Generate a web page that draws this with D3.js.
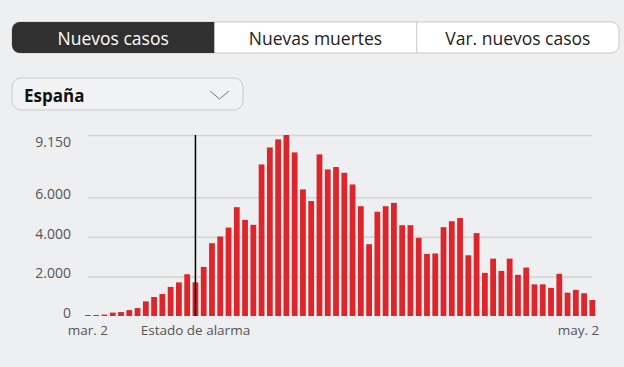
<!DOCTYPE html>
<html>
<head>
<meta charset="utf-8">
<script src="https://cdn.jsdelivr.net/npm/d3@7"></script>
<style>
  html, body { margin: 0; padding: 0; background: #eeeff1; }
  svg { display: block; font-family: "Open Sans", sans-serif; }
</style>
</head>
<body>
<div id="chart"></div>
<script>
// tabs and selector
const tabs = ['Nuevos casos', 'Nuevas muertes', 'Var. nuevos casos'];
const region = 'España';

// one bar per day, mar. 2 .. may. 2
const days = d3.timeDay.range(new Date(2020, 2, 2), new Date(2020, 4, 3));
const newCases = [
  50, 50, 70, 170, 200, 300, 400, 740, 960, 1110,
  1470, 1700, 2110, 1700, 2480, 3680, 4020, 4470, 5500, 4860,
  4610, 7660, 8520, 8930, 9150, 8270, 6400, 5810, 8170, 7410,
  7530, 7240, 6650, 5550, 3630, 5270, 5550, 5720, 4590, 4590,
  3950, 3140, 3160, 4490, 4790, 4950, 3070, 4190, 2180, 2900,
  2280, 2900, 2080, 2450, 1600, 1600, 1420, 2130, 1180, 1320,
  1150, 810
];
const yTicks = [0, 2000, 4000, 6000, 9150];
const xTickLabels = ['mar. 2', 'may. 2'];
const alarmDay = 13; // index into days
const alarmLabel = 'Estado de alarma';

const width = 624, height = 367;
const data = days.map((d, i) => ({ day: i, value: newCases[i] }));

const svg = d3.select('#chart').append('svg')
    .attr('width', width)
    .attr('height', height);

// --- tab bar
const tabX = d3.scaleBand().domain(tabs).range([12, 619]);
const tabY = 22, tabH = 31, r = 8;

svg.append('rect')
    .attr('x', 12).attr('y', tabY)
    .attr('width', 607).attr('height', tabH)
    .attr('rx', r)
    .attr('fill', '#fff')
    .attr('stroke', '#c9c9c9');

const x0 = tabX(tabs[0]), x1 = x0 + tabX.bandwidth();
svg.append('path')
    .attr('d', `M${x1},${tabY}H${x0 + r}A${r},${r} 0 0 0 ${x0},${tabY + r}V${tabY + tabH - r}A${r},${r} 0 0 0 ${x0 + r},${tabY + tabH}H${x1}Z`)
    .attr('fill', '#303030');

svg.append('line')
    .attr('x1', tabX(tabs[2])).attr('x2', tabX(tabs[2]))
    .attr('y1', tabY).attr('y2', tabY + tabH)
    .attr('stroke', '#c9c9c9');

svg.selectAll('.tab')
  .data(tabs)
  .enter().append('text')
    .attr('class', 'tab')
    .attr('x', d => tabX(d) + tabX.bandwidth() / 2)
    .attr('y', 45)
    .attr('text-anchor', 'middle')
    .attr('font-size', '17.5px')
    .attr('fill', (d, i) => i === 0 ? '#fff' : '#222')
    .text(d => d);

// --- region dropdown
svg.append('rect')
    .attr('x', 12).attr('y', 78)
    .attr('width', 231).attr('height', 32)
    .attr('rx', 9)
    .attr('fill', '#f1f2f4')
    .attr('stroke', '#c9c9c9');

svg.append('text')
    .attr('x', 24).attr('y', 102)
    .attr('font-size', '17px')
    .attr('font-weight', 'bold')
    .attr('fill', '#111')
    .text(region);

svg.append('polyline')
    .attr('points', '210,91 219.5,99 229,91')
    .attr('fill', 'none')
    .attr('stroke', '#777')
    .attr('stroke-width', 1);

// --- bar chart
const xScale = d3.scaleBand()
    .domain(d3.range(days.length))
    .range([83.8, 596.5])
    .paddingInner(0.3)
    .paddingOuter(0.15);

const yScale = d3.scaleLinear()
    .domain([0, 9150])
    .range([316, 135]);

const fmt = d3.formatLocale({ decimal: ',', thousands: '.', grouping: [3], currency: ['', '€'] }).format(',');

const yAxis = svg.append('g')
    .attr('transform', 'translate(88,0)')
    .call(d3.axisLeft(yScale)
      .tickValues(yTicks)
      .tickFormat(fmt)
      .tickSize(-504)
      .tickPadding(17));

yAxis.select('.domain').remove();
yAxis.selectAll('.tick line')
    .attr('stroke', '#d2d3d5')
    .attr('stroke-width', 1.5)
    .attr('opacity', d => d === 0 ? 0 : 1);
yAxis.selectAll('.tick text')
    .attr('font-family', '"Open Sans", sans-serif')
    .attr('font-size', '14px')
    .attr('fill', '#555')
    .attr('dy', d => d === 9150 ? '0.8em' : '0.1em');

svg.append('g')
  .selectAll('rect')
  .data(data)
  .enter().append('rect')
    .attr('x', d => xScale(d.day))
    .attr('y', d => yScale(d.value))
    .attr('width', xScale.bandwidth())
    .attr('height', d => yScale(0) - yScale(d.value))
    .attr('fill', '#dc262b');

// state of alarm marker
const ax = xScale(alarmDay) + xScale.bandwidth() / 2;
svg.append('line')
    .attr('x1', ax).attr('x2', ax)
    .attr('y1', yScale(9150)).attr('y2', yScale(0))
    .attr('stroke', '#000')
    .attr('stroke-width', 1.5);

// x labels
const xLabels = [
  { text: xTickLabels[0], x: xScale(0) + xScale.bandwidth() / 2, anchor: 'middle' },
  { text: alarmLabel, x: ax, anchor: 'middle' },
  { text: xTickLabels[1], x: xScale(days.length - 1) + xScale.bandwidth() + 4, anchor: 'end' }
];
svg.selectAll('.xlabel')
  .data(xLabels)
  .enter().append('text')
    .attr('class', 'xlabel')
    .attr('x', d => d.x)
    .attr('y', 335)
    .attr('text-anchor', d => d.anchor)
    .attr('font-size', '13.5px')
    .attr('fill', '#555')
    .text(d => d.text);
</script>
</body>
</html>
